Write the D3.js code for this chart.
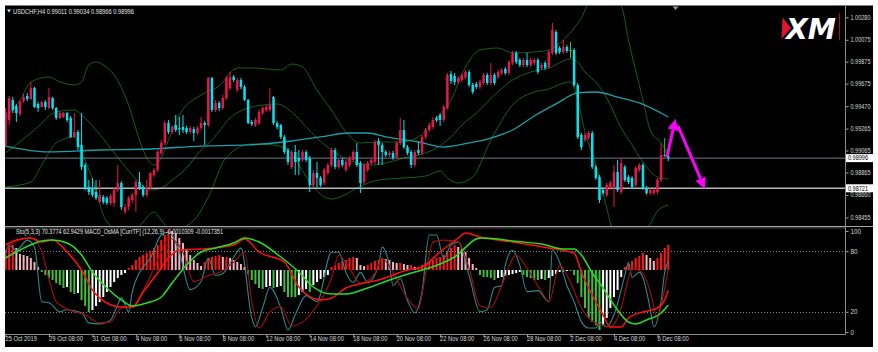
<!DOCTYPE html>
<html><head><meta charset="utf-8">
<script src="https://cdn.jsdelivr.net/npm/d3@7/dist/d3.min.js"></script>
<style>
html,body{margin:0;padding:0;background:#ffffff;}
svg{display:block;font-family:"Liberation Sans",Arial,sans-serif;}
</style></head><body>
<svg id="chart" width="878" height="352"></svg>
<script>
// ---------- DATA (USDCHF H4) ----------
const open=[0.99116,0.99344,0.99526,0.99471,0.99398,0.99517,0.99562,0.99535,0.99635,0.99490,
0.99462,0.99508,0.99453,0.99544,0.99453,0.99362,0.99371,0.99407,0.99362,0.99189,
0.99234,0.99116,0.98933,0.98733,0.98723,0.98687,0.98596,0.98641,0.98632,0.98587,
0.98587,0.98705,0.98769,0.98505,0.98550,0.98614,0.98660,0.98778,0.98733,0.98660,
0.98733,0.98842,0.98888,0.99043,0.99134,0.99316,0.99234,0.99298,0.99271,0.99280,
0.99271,0.99234,0.99261,0.99225,0.99271,0.99316,0.99298,0.99727,0.99435,0.99499,
0.99453,0.99544,0.99635,0.99736,0.99617,0.99708,0.99645,0.99526,0.99325,0.99298,
0.99316,0.99407,0.99435,0.99435,0.99553,0.99316,0.99298,0.99189,0.99070,0.98915,
0.99052,0.98997,0.98979,0.99052,0.98997,0.98751,0.98860,0.98815,0.98769,0.98860,
0.98933,0.99070,0.98915,0.98979,0.98888,0.98933,0.98979,0.99052,0.98951,0.98778,
0.98888,0.98951,0.98961,0.99152,0.99116,0.99052,0.99024,0.99043,0.99006,0.99134,
0.99252,0.99097,0.99052,0.98933,0.99070,0.99043,0.99189,0.99252,0.99280,0.99362,
0.99389,0.99344,0.99453,0.99763,0.99745,0.99690,0.99708,0.99736,0.99781,0.99663,
0.99672,0.99645,0.99681,0.99754,0.99681,0.99754,0.99736,0.99772,0.99809,0.99772,
0.99863,0.99955,0.99891,0.99845,0.99891,0.99845,0.99863,0.99891,0.99818,0.99863,
0.99827,0.99955,1.00146,1.00000,0.99964,1.00009,0.99982,0.99982,0.99663,0.99207,
0.99161,0.99179,0.99225,0.98915,0.98824,0.98705,0.98660,0.98723,0.98723,0.98869,
0.98687,0.98915,0.98824,0.98815,0.98751,0.98888,0.98933,0.98723,0.98678,0.98678,
0.98687,0.98796,0.99024,0.99011];
const high=[0.99453,0.99562,0.99553,0.99490,0.99526,0.99581,0.99590,0.99690,0.99645,0.99508,
0.99517,0.99526,0.99635,0.99553,0.99462,0.99426,0.99417,0.99417,0.99380,0.99407,
0.99252,0.99407,0.98951,0.98796,0.98815,0.98796,0.98796,0.98660,0.98650,0.98669,
0.98723,0.98933,0.98787,0.98578,0.98650,0.98678,0.98796,0.98869,0.98751,0.98796,
0.98869,0.98906,0.99070,0.99161,0.99334,0.99344,0.99298,0.99389,0.99371,0.99389,
0.99289,0.99289,0.99280,0.99289,0.99371,0.99334,0.99736,0.99736,0.99526,0.99517,
0.99572,0.99745,0.99781,0.99754,0.99727,0.99727,0.99663,0.99535,0.99344,0.99362,
0.99435,0.99471,0.99480,0.99635,0.99562,0.99334,0.99307,0.99207,0.99088,0.99070,
0.99116,0.99070,0.99070,0.99070,0.99015,0.98888,0.98961,0.98833,0.98906,0.98951,
0.99088,0.99088,0.98997,0.98997,0.98979,0.99015,0.99070,0.99134,0.98970,0.98951,
0.98970,0.98997,0.99161,0.99179,0.99134,0.99070,0.99061,0.99061,0.99152,0.99362,
0.99344,0.99116,0.99070,0.99070,0.99143,0.99207,0.99271,0.99316,0.99371,0.99380,
0.99407,0.99480,0.99772,0.99790,0.99772,0.99745,0.99772,0.99800,0.99800,0.99681,
0.99690,0.99708,0.99772,0.99772,0.99863,0.99772,0.99800,0.99818,0.99827,0.99891,
0.99973,0.99973,0.99909,0.99909,0.99955,0.99909,0.99909,0.99909,0.99863,0.99882,
0.99982,1.00228,1.00164,1.00018,1.00073,1.00028,1.00055,1.00000,0.99681,0.99225,
0.99225,0.99243,0.99243,0.98933,0.98842,0.98723,0.98769,0.98787,0.98933,0.98979,
0.98997,0.98933,0.98842,0.98833,0.98924,0.98951,0.98951,0.98742,0.98723,0.98723,
0.98815,0.99134,0.99179,0.99034];
const low=[0.99097,0.99298,0.99407,0.99325,0.99380,0.99499,0.99517,0.99526,0.99453,0.99417,
0.99453,0.99435,0.99444,0.99435,0.99344,0.99353,0.99362,0.99325,0.99179,0.99179,
0.99070,0.98888,0.98705,0.98660,0.98641,0.98614,0.98587,0.98578,0.98568,0.98568,
0.98550,0.98687,0.98523,0.98487,0.98523,0.98587,0.98505,0.98705,0.98641,0.98641,
0.98714,0.98824,0.98869,0.99024,0.99116,0.99216,0.99216,0.99234,0.99207,0.99225,
0.99216,0.99216,0.99152,0.99207,0.99252,0.99116,0.99280,0.99417,0.99417,0.99426,
0.99435,0.99526,0.99617,0.99690,0.99599,0.99626,0.99517,0.99307,0.99289,0.99280,
0.99298,0.99389,0.99417,0.99417,0.99298,0.99261,0.99170,0.99034,0.98933,0.98897,
0.98842,0.98842,0.98961,0.98961,0.98687,0.98733,0.98723,0.98733,0.98751,0.98842,
0.98915,0.98897,0.98897,0.98915,0.98869,0.98915,0.98961,0.98915,0.98678,0.98760,
0.98869,0.98933,0.98942,0.98933,0.98933,0.99006,0.99006,0.98979,0.98988,0.99116,
0.99079,0.99024,0.98906,0.98915,0.99024,0.99024,0.99170,0.99234,0.99261,0.99325,
0.99289,0.99325,0.99435,0.99672,0.99663,0.99672,0.99690,0.99717,0.99645,0.99581,
0.99626,0.99626,0.99663,0.99663,0.99663,0.99663,0.99717,0.99754,0.99754,0.99754,
0.99845,0.99854,0.99827,0.99827,0.99827,0.99827,0.99845,0.99763,0.99800,0.99800,
0.99809,0.99936,0.99936,0.99945,0.99945,0.99955,0.99909,0.99645,0.99170,0.99070,
0.99143,0.99161,0.98897,0.98796,0.98587,0.98660,0.98641,0.98705,0.98550,0.98687,
0.98669,0.98778,0.98760,0.98714,0.98733,0.98869,0.98705,0.98660,0.98660,0.98660,
0.98669,0.98778,0.99006,0.98966];
const close=[0.99417,0.99544,0.99435,0.99407,0.99508,0.99553,0.99535,0.99635,0.99462,0.99453,
0.99508,0.99462,0.99553,0.99453,0.99362,0.99407,0.99407,0.99344,0.99189,0.99234,
0.99097,0.98915,0.98723,0.98687,0.98660,0.98632,0.98660,0.98596,0.98587,0.98650,
0.98705,0.98769,0.98550,0.98550,0.98632,0.98660,0.98778,0.98723,0.98660,0.98733,
0.98860,0.98888,0.99052,0.99134,0.99316,0.99234,0.99280,0.99252,0.99261,0.99252,
0.99234,0.99271,0.99225,0.99271,0.99316,0.99298,0.99727,0.99435,0.99499,0.99453,
0.99544,0.99727,0.99736,0.99708,0.99708,0.99645,0.99526,0.99316,0.99307,0.99344,
0.99417,0.99453,0.99462,0.99480,0.99316,0.99280,0.99189,0.99052,0.98961,0.99052,
0.98961,0.98970,0.99052,0.98979,0.98751,0.98860,0.98815,0.98751,0.98888,0.98933,
0.99070,0.98915,0.98979,0.98933,0.98961,0.98997,0.99052,0.98933,0.98769,0.98933,
0.98951,0.98979,0.99143,0.99116,0.99052,0.99024,0.99043,0.98997,0.99134,0.99252,
0.99097,0.99043,0.98933,0.99052,0.99043,0.99189,0.99252,0.99298,0.99344,0.99344,
0.99344,0.99462,0.99754,0.99699,0.99690,0.99727,0.99754,0.99781,0.99663,0.99599,
0.99645,0.99690,0.99754,0.99681,0.99754,0.99681,0.99781,0.99800,0.99772,0.99873,
0.99955,0.99873,0.99845,0.99891,0.99845,0.99891,0.99891,0.99781,0.99845,0.99818,
0.99964,1.00164,0.99955,0.99964,1.00009,0.99973,0.99982,0.99663,0.99189,0.99097,
0.99207,0.99225,0.98915,0.98815,0.98614,0.98678,0.98751,0.98769,0.98869,0.98705,
0.98951,0.98796,0.98778,0.98733,0.98906,0.98933,0.98723,0.98678,0.98705,0.98705,
0.98796,0.99024,0.99024,0.98996];

// Bollinger bands and slow MA: [bar index, price] read at points along the lines
const bandUpper=[[0,0.99362],[4,0.99526],[7,0.99690],[12,0.99736],[15,0.99690],[19,0.99663],[21,0.99690],[23,0.99845],[25,0.99873],[27,0.99845],[30,0.99754],[34,0.99480],[37,0.99161],[39,0.98997],[41,0.98933],[43,0.98997],[45,0.99161],[48,0.99389],[54,0.99572],[59,0.99654],[64,0.99818],[68,0.99818],[76,0.99800],[79,0.99854],[82,0.99827],[86,0.99617],[90,0.99435],[94,0.99234],[98,0.99134],[103,0.99143],[109,0.99143],[114,0.99189],[118,0.99325],[123,0.99526],[127,0.99827],[131,0.99982],[136,1.00000],[140,0.99955],[146,0.99964],[150,0.99982],[154,1.00073],[157,1.00183],[159,1.00274],[161,1.00402],[166,1.00456],[170,1.00383],[172,1.00073],[176,0.99526],[178,0.99252],[181,0.99134],[183,0.99024]];
const bandMiddle=[[0,0.99043],[8,0.99252],[14,0.99417],[19,0.99435],[21,0.99389],[25,0.99252],[29,0.99088],[35,0.98842],[40,0.98705],[43,0.98723],[46,0.98796],[50,0.98906],[54,0.99070],[57,0.99161],[62,0.99362],[67,0.99453],[71,0.99480],[75,0.99490],[79,0.99417],[83,0.99280],[86,0.99179],[90,0.99070],[96,0.98961],[101,0.98933],[105,0.98951],[110,0.98997],[114,0.99024],[119,0.99088],[123,0.99189],[126,0.99298],[130,0.99407],[135,0.99572],[140,0.99708],[145,0.99781],[150,0.99818],[156,0.99900],[158,0.99873],[160,0.99781],[163,0.99690],[166,0.99544],[170,0.99271],[173,0.99116],[176,0.98961],[180,0.98824],[183,0.98806]];
const bandLower=[[0,0.98733],[7,0.98778],[10,0.98933],[14,0.99134],[19,0.99189],[21,0.99052],[25,0.98705],[27,0.98477],[30,0.98350],[34,0.98295],[37,0.98377],[41,0.98505],[43,0.98432],[46,0.98322],[50,0.98377],[53,0.98468],[56,0.98641],[61,0.99006],[68,0.99125],[74,0.99116],[78,0.99070],[81,0.98933],[85,0.98733],[90,0.98623],[93,0.98650],[97,0.98723],[103,0.98796],[110,0.98815],[116,0.98833],[120,0.98878],[122,0.98815],[125,0.98769],[129,0.98824],[134,0.99161],[140,0.99480],[146,0.99599],[150,0.99626],[154,0.99681],[156,0.99690],[158,0.99526],[160,0.99234],[163,0.98933],[166,0.98541],[168,0.98295],[172,0.98158],[176,0.98322],[178,0.98395],[180,0.98514],[183,0.98568]];
const slowMA=[[0,0.99106],[12,0.99052],[26,0.99070],[40,0.99079],[54,0.99106],[67,0.99116],[79,0.99152],[87,0.99189],[95,0.99225],[100,0.99225],[105,0.99189],[114,0.99143],[121,0.99097],[128,0.99134],[134,0.99179],[140,0.99252],[146,0.99380],[152,0.99490],[158,0.99590],[163,0.99599],[169,0.99553],[175,0.99499],[183,0.99371]];
const levels=[0.98996,0.98721];
const priceTicks=[1.00280,1.00075,0.99875,0.99675,0.99470,0.99265,0.99065,0.98865,0.98660,0.98455];
// forecast arrows: [bar, price] start -> end
const arrows=[[[182.6,0.99006],[185,0.99353]],[[185.7,0.99289],[193.1,0.98714]]];

// OsMA histogram, MACD and signal in points (1 point = 0.00001)
const osma=[100,120,125,110,80,75,70,60,40,15,
-10,-25,-40,-50,-65,-75,-90,-85,-110,-120,
-115,-150,-180,-210,-200,-180,-160,-135,-110,-85,
-60,-40,-25,-15,10,25,50,65,75,85,
95,110,125,150,175,200,195,185,160,135,
100,75,50,35,20,40,60,65,70,75,
65,65,60,50,40,30,15,-20,-50,-70,
-90,-95,-85,-80,-90,-85,-80,-110,-135,-135,
-135,-125,-110,-95,-110,-75,-60,-45,-35,-25,
15,25,35,45,50,60,65,60,25,20,
25,35,45,50,60,55,50,40,35,35,
30,25,25,15,15,25,35,40,50,60,
65,75,90,110,125,115,105,90,60,30,
10,-25,-35,-35,-40,-50,-40,-35,-30,-25,
-20,-15,-10,-25,-35,-40,-50,-50,-45,-50,
-40,-30,-20,-10,-10,-5,-5,-25,-65,-135,
-190,-240,-260,-275,-300,-275,-240,-190,-135,-100,
-35,15,30,45,60,70,85,75,60,45,
60,85,110,125];
const macdLine=[[0,125],[3,150],[7,160],[10,140],[13,150],[17,90],[21,0],[24,-100],[28,-165],[32,-185],[35,-185],[38,-110],[42,-15],[45,60],[48,100],[54,105],[63,125],[66,155],[70,90],[77,40],[81,-85],[87,-150],[90,-140],[94,-90],[99,-65],[103,-50],[111,0],[115,15],[120,90],[125,160],[127,185],[131,165],[140,140],[150,110],[156,90],[157,85],[159,-10],[162,-125],[165,-225],[167,-285],[170,-285],[172,-240],[176,-210],[180,-190],[182,-150],[183,-103]];
const signalLine=[[0,60],[4,100],[10,145],[13,150],[17,135],[21,75],[24,-10],[28,-90],[32,-150],[35,-180],[39,-165],[43,-135],[46,-65],[50,25],[54,90],[58,110],[63,135],[66,160],[70,140],[76,65],[81,-10],[85,-85],[90,-120],[94,-120],[100,-90],[106,-50],[113,-10],[117,10],[124,65],[131,160],[136,155],[140,145],[148,130],[154,105],[157,105],[159,75],[162,-15],[165,-90],[168,-175],[172,-260],[174,-270],[177,-250],[181,-215],[183,-175]];
// Stochastic (5,3,3)
const stoMain=[[0,78],[1,86],[3,81],[6,91],[8,84],[10,30],[12,29],[15,20],[17,22],[21,19],[23,9],[26,8],[29,12],[31,27],[32,34],[34,20],[35,40],[37,59],[40,73],[43,96],[45,99],[48,79],[51,42],[54,50],[56,73],[58,56],[60,58],[63,74],[65,83],[68,14],[69,5],[71,24],[73,44],[76,24],[78,2],[80,17],[83,36],[86,30],[90,79],[92,79],[94,59],[96,49],[98,59],[100,49],[103,66],[104,84],[106,66],[107,46],[109,53],[111,31],[113,19],[115,40],[117,96],[119,96],[121,73],[123,86],[125,89],[128,56],[131,20],[133,22],[135,44],[137,46],[138,66],[140,81],[142,66],[144,40],[147,41],[150,30],[151,81],[153,69],[155,46],[157,30],[159,10],[161,4],[163,4],[164,10],[166,5],[168,17],[171,56],[172,69],[173,54],[175,59],[176,54],[178,23],[179,5],[181,30],[182,59],[183,70]];
const stoSignal=[[0,81],[2,88],[7,93],[10,80],[12,52],[14,30],[19,20],[22,17],[26,9],[29,10],[32,24],[35,24],[39,48],[43,79],[45,93],[49,79],[52,50],[56,56],[59,59],[63,69],[66,79],[68,30],[70,4],[73,20],[76,25],[79,6],[82,10],[86,26],[90,53],[92,76],[95,63],[98,48],[102,58],[104,73],[107,59],[111,33],[114,23],[116,58],[118,89],[121,91],[125,89],[128,63],[131,26],[134,24],[137,46],[141,76],[144,63],[148,40],[150,30],[153,66],[156,49],[159,24],[161,14],[164,7],[167,5],[170,24],[172,53],[173,63],[176,58],[178,40],[180,14],[181,26],[183,63]];
const stoLevels=[80,20];
const stoTicks=[100,80,20,0];
// time axis
const timeBars=[0,12,24,36,48,60,72,84,96,108,120,132,144,156,168,180];
const timeLabels=["25 Oct 2019","29 Oct 08:00","31 Oct 08:00","4 Nov 08:00","6 Nov 08:00","8 Nov 08:00","12 Nov 08:00","14 Nov 08:00","18 Nov 08:00","20 Nov 08:00","22 Nov 08:00","26 Nov 08:00","28 Nov 08:00","2 Dec 08:00","4 Dec 08:00","6 Dec 08:00"];
const mainTitle="USDCHF,H4  0.99011 0.99034 0.98966 0.98996";
const subTitle="Sto(5,3,3) 70.3774 62.9429  MACD_OsMA [CurrTF] (12,26,9) -0.0010309 -0.0017351";

// ---------- LAYOUT ----------
const svg=d3.select('#chart');
const L=5, R=845, mainTop=6, mainBot=226, subTop=228, subBot=334;
const x=d3.scaleLinear().domain([0,183]).range([5.5,668.3]);
const y=d3.scaleLinear().domain([0.98377,1.00383]).range([mainBot,mainTop]);
const ySto=d3.scaleLinear().domain([0,100]).range([332,231]);
const yOs=d3.scaleLinear().domain([-320,210]).range([subBot,subTop]);

svg.append('rect').attr('width',878).attr('height',352).attr('fill','#fff');
svg.append('rect').attr('x',5).attr('y',6).attr('width',868).attr('height',341).attr('fill','#000');
svg.append('line').attr('x1',5).attr('x2',873).attr('y1',5.5).attr('y2',5.5).attr('stroke','#7a7a7a');

const defs=svg.append('defs');
defs.append('clipPath').attr('id','cm').append('rect').attr('x',L).attr('y',mainTop).attr('width',R-L).attr('height',mainBot-mainTop);
defs.append('clipPath').attr('id','cs').append('rect').attr('x',L).attr('y',subTop).attr('width',R-L).attr('height',subBot-subTop);

// ---------- MAIN PANEL ----------
const gm=svg.append('g').attr('clip-path','url(#cm)');
const pl=d3.line().x(d=>x(d[0])).y(d=>y(d[1])).curve(d3.curveMonotoneX);
[bandUpper,bandMiddle,bandLower].forEach(b=>{
  gm.append('path').attr('d',pl(b)).attr('fill','none').attr('stroke','#15601a').attr('stroke-width',1);
});
gm.append('path').attr('d',pl(slowMA)).attr('fill','none').attr('stroke','#1c9fa8').attr('stroke-width',1.3);

gm.selectAll('line.lvl').data(levels).join('line').attr('class','lvl')
  .attr('x1',L).attr('x2',R).attr('y1',d=>y(d)).attr('y2',d=>y(d))
  .attr('stroke',(d,i)=>i===0?'#6e7a85':'#b8b8b8').attr('stroke-width',(d,i)=>i===0?1:1.6);

const bars=d3.range(open.length);
const col=i=>close[i]>open[i]?'#e8174b':(close[i]<open[i]?'#00e4f0':'#3cc23c');
gm.selectAll('line.wick').data(bars).join('line').attr('class','wick')
  .attr('x1',i=>x(i)).attr('x2',i=>x(i)).attr('y1',i=>y(high[i])).attr('y2',i=>y(low[i]))
  .attr('stroke',col).attr('stroke-width',1);
gm.selectAll('rect.body').data(bars).join('rect').attr('class','body')
  .attr('x',i=>x(i)-1.25).attr('width',2.5)
  .attr('y',i=>y(Math.max(open[i],close[i])))
  .attr('height',i=>Math.max(1,Math.abs(y(open[i])-y(close[i]))))
  .attr('fill',col);

// arrows
arrows.forEach(a=>{
  const p0=[x(a[0][0]),y(a[0][1])], p1=[x(a[1][0]),y(a[1][1])];
  const dx=p1[0]-p0[0], dy=p1[1]-p0[1], len=Math.hypot(dx,dy), ux=dx/len, uy=dy/len;
  const hl=11, hw=5.5, bx=p1[0]-ux*hl, by=p1[1]-uy*hl;
  gm.append('line').attr('x1',p0[0]).attr('y1',p0[1]).attr('x2',bx).attr('y2',by)
    .attr('stroke','#ff00ff').attr('stroke-width',3);
  gm.append('path').attr('d',`M${p1[0]},${p1[1]}L${bx-uy*hw},${by+ux*hw}L${bx+uy*hw},${by-ux*hw}Z`).attr('fill','#ff00ff');
});

// shift marker
svg.append('path').attr('d',`M${x(185)-3},6.5L${x(185)+3},6.5L${x(185)},10Z`).attr('fill','#9a9a9a');

// header
svg.append('path').attr('d','M7,9.5L11,9.5L9,12.5Z').attr('fill','#e6e6e6');
svg.append('text').attr('x',13).attr('y',13.5).attr('font-size',6.8).attr('fill','#e6e6e6')
  .attr('textLength',121).attr('lengthAdjust','spacingAndGlyphs').text(mainTitle);

// XM logo
svg.append('path').attr('d','M782.5,17.5L791,28L781.5,39Z').attr('fill','#e0142d');
svg.append('text').attr('x',786).attr('y',38.5).attr('font-size',28).attr('font-weight','bold')
  .attr('font-style','italic').attr('font-family','"DejaVu Sans",sans-serif').attr('fill','#fff')
  .attr('textLength',50).attr('lengthAdjust','spacingAndGlyphs').text('XM');
svg.append('line').attr('x1',839.5).attr('x2',839.5).attr('y1',13).attr('y2',40).attr('stroke','#a8101e').attr('stroke-width',1);

// price axis
const ax=svg.append('g').attr('transform',`translate(${R+0.5},0)`)
  .call(d3.axisRight(y).tickValues(priceTicks).tickFormat(d3.format('.5f')).tickSize(3).tickPadding(2));
ax.select('.domain').remove();
ax.selectAll('line').attr('stroke','#a0a0a0');
ax.selectAll('text').attr('fill','#d8d8d8').attr('font-size',6.3).attr('textLength',20).attr('lengthAdjust','spacingAndGlyphs');

// level boxes
const lb=svg.selectAll('g.lb').data(levels).join('g').attr('class','lb');
lb.append('rect').attr('x',R+1).attr('y',d=>y(d)-4).attr('width',27).attr('height',8).attr('fill','#fff');
lb.append('text').attr('x',R+3).attr('y',d=>y(d)+2.3).attr('font-size',6.3).attr('fill','#000')
  .attr('textLength',20).attr('lengthAdjust','spacingAndGlyphs').text(d=>d3.format('.5f')(d));

// panel frame lines
svg.append('line').attr('x1',L).attr('x2',873).attr('y1',226.5).attr('y2',226.5).attr('stroke','#a8a8a8');
svg.append('line').attr('x1',L).attr('x2',R).attr('y1',228).attr('y2',228).attr('stroke','#555');
svg.append('line').attr('x1',R+0.5).attr('x2',R+0.5).attr('y1',6).attr('y2',subBot+0.5).attr('stroke','#8a8a8a');
svg.append('line').attr('x1',L).attr('x2',R+0.5).attr('y1',subBot+0.5).attr('y2',subBot+0.5).attr('stroke','#8a8a8a');

// ---------- SUB PANEL ----------
const gs=svg.append('g').attr('clip-path','url(#cs)');
gs.selectAll('line.sl').data(stoLevels).join('line').attr('class','sl')
  .attr('x1',L).attr('x2',R).attr('y1',d=>Math.round(ySto(d))+0.5).attr('y2',d=>Math.round(ySto(d))+0.5)
  .attr('stroke','#8c8c8c').attr('stroke-dasharray','1,2');
const hcol=i=>{const v=osma[i],p=i>0?osma[i-1]:v;
  if(v>=0) return v>=p?'#ff1414':'#f2b3c0';
  return v<=p?'#3cc03c':'#ffffff';};
gs.selectAll('rect.h').data(bars).join('rect').attr('class','h')
  .attr('x',i=>x(i)-1).attr('width',2)
  .attr('y',i=>Math.min(yOs(0),yOs(osma[i]))).attr('height',i=>Math.abs(yOs(osma[i])-yOs(0)))
  .attr('fill',hcol);
const ls=d3.line().x(d=>x(d[0])).y(d=>ySto(d[1])).curve(d3.curveMonotoneX);
const lo=d3.line().x(d=>x(d[0])).y(d=>yOs(d[1])).curve(d3.curveMonotoneX);
gs.append('path').attr('d',ls(stoMain)).attr('fill','none').attr('stroke','#2b8a8c').attr('stroke-width',1.1);
gs.append('path').attr('d',ls(stoSignal)).attr('fill','none').attr('stroke','#a80c0c').attr('stroke-width',1.1);
gs.append('path').attr('d',lo(macdLine)).attr('fill','none').attr('stroke','#ff1010').attr('stroke-width',1.5);
gs.append('path').attr('d',lo(signalLine)).attr('fill','none').attr('stroke','#22e022').attr('stroke-width',1.5);

svg.append('text').attr('x',16).attr('y',233.5).attr('font-size',6.8).attr('fill','#e6e6e6')
  .attr('textLength',207).attr('lengthAdjust','spacingAndGlyphs').text(subTitle);

const as=svg.append('g').attr('transform',`translate(${R+0.5},0)`)
  .call(d3.axisRight(ySto).tickValues(stoTicks).tickSize(3).tickPadding(2));
as.select('.domain').remove();
as.selectAll('line').attr('stroke','#a0a0a0');
as.selectAll('text').attr('fill','#d8d8d8').attr('font-size',6.3);

// time axis
const at=svg.append('g').attr('transform',`translate(0,${subBot+0.5})`)
  .call(d3.axisBottom(x).tickValues(timeBars).tickFormat((d,i)=>timeLabels[i]).tickSize(3).tickPadding(1.5));
at.select('.domain').remove();
at.selectAll('line').attr('stroke','#a0a0a0');
at.selectAll('text').attr('fill','#d8d8d8').attr('font-size',6.6).attr('text-anchor','start')
  .attr('dx',-0.5).attr('dy','0.3em')
  .attr('textLength',(d,i)=>timeLabels[i].length*2.85).attr('lengthAdjust','spacingAndGlyphs');
</script>
</body></html>
